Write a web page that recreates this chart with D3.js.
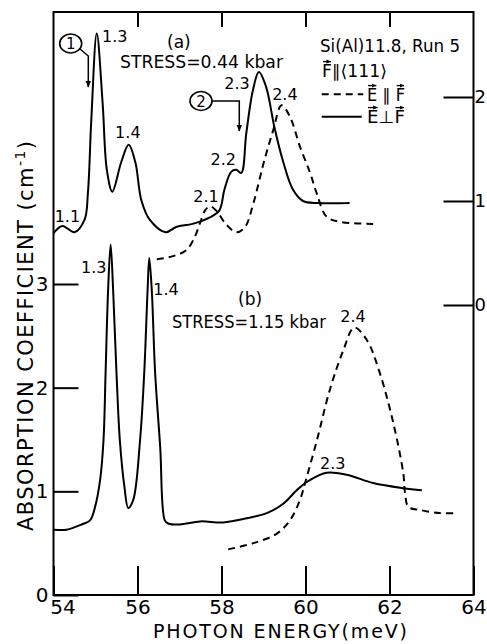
<!DOCTYPE html>
<html>
<head>
<meta charset="utf-8">
<script src="https://cdn.jsdelivr.net/npm/d3@7"></script>
<style>
  body { margin: 0; background: #fff; }
  svg { font-family: "DejaVu Sans", sans-serif; }
</style>
</head>
<body>
<svg id="chart" width="487" height="644"></svg>
<script>
// tick values
const xTicks = [54, 56, 58, 60, 62, 64];
const leftTicks = [0, 1, 2, 3];   // scale for (b)
const rightTicks = [0, 1, 2];     // scale for (a)

// (a) stress 0.44 kbar, read on the right-hand scale  [energy meV, coeff]
const aPerp = [
  [54.0, 0.69], [54.21, 0.76], [54.5, 0.70], [54.74, 0.82], [54.82, 1.08],
  [54.90, 1.78], [55.03, 2.61], [55.17, 1.94], [55.27, 1.30], [55.40, 1.09],
  [55.61, 1.37], [55.79, 1.54], [55.95, 1.37], [56.09, 1.01], [56.29, 0.82],
  [56.67, 0.70], [56.92, 0.75], [57.31, 0.78], [57.71, 0.84], [57.95, 0.91],
  [58.07, 1.11], [58.23, 1.28], [58.35, 1.30], [58.47, 1.27], [58.59, 1.65],
  [58.75, 2.07], [58.89, 2.24], [59.06, 2.10], [59.26, 1.71], [59.46, 1.39],
  [59.70, 1.11], [59.94, 1.00], [60.3, 0.98], [61.05, 0.98]
];
const aPar = [
  [56.46, 0.44], [56.85, 0.47], [57.17, 0.53], [57.37, 0.66], [57.49, 0.79],
  [57.61, 0.91], [57.73, 0.95], [57.89, 0.90], [58.12, 0.77], [58.36, 0.70],
  [58.56, 0.75], [58.76, 0.98], [59.00, 1.36], [59.23, 1.68], [59.43, 1.92],
  [59.63, 1.81], [59.87, 1.52], [60.11, 1.27], [60.27, 1.07], [60.50, 0.85],
  [60.82, 0.80], [61.61, 0.78]
];

// (b) stress 1.15 kbar, read on the left-hand scale
const bPerp = [
  [54.01, 0.63], [54.31, 0.63], [54.67, 0.68], [54.87, 0.72], [54.99, 0.85],
  [55.11, 1.11], [55.19, 1.49], [55.24, 2.14], [55.30, 2.94], [55.36, 3.38],
  [55.42, 2.94], [55.50, 2.14], [55.58, 1.49], [55.69, 1.04], [55.78, 0.84],
  [55.90, 0.92], [56.06, 1.49], [56.16, 2.14], [56.24, 2.94], [56.28, 3.25],
  [56.34, 2.94], [56.42, 2.14], [56.54, 1.43], [56.65, 0.72], [56.73, 0.69],
  [57.01, 0.68], [57.49, 0.71], [58.04, 0.70], [58.60, 0.74], [59.08, 0.79],
  [59.47, 0.88], [59.79, 1.01], [60.03, 1.09], [60.50, 1.18], [60.98, 1.16],
  [61.61, 1.08], [62.33, 1.03], [62.77, 1.01]
];
const bPar = [
  [58.16, 0.44], [58.76, 0.50], [59.31, 0.59], [59.63, 0.72], [59.87, 0.92],
  [60.01, 1.11], [60.27, 1.49], [60.58, 1.98], [60.90, 2.36], [61.16, 2.58],
  [61.46, 2.46], [61.77, 2.14], [62.09, 1.66], [62.33, 1.17], [62.37, 0.98],
  [62.45, 0.85], [62.73, 0.82], [63.20, 0.79], [63.60, 0.79]
];

// peak labels [text, energy, coeff]
const aLabels = [
  ["1.1", 54.33, 0.80], ["1.3", 55.46, 2.53], ["1.4", 55.77, 1.61],
  ["2.1", 57.63, 0.99], ["2.2", 58.04, 1.35], ["2.3", 58.37, 2.08], ["2.4", 59.51, 1.97]
];
const bLabels = [
  ["1.3", 54.96, 3.11], ["1.4", 56.68, 2.89], ["2.4", 61.13, 2.63], ["2.3", 60.65, 1.22]
];

const svg = d3.select("#chart");
const width = +svg.attr("width");
const height = +svg.attr("height");
const frame = { left: 53.5, right: 473.5, top: 12, bottom: 595 };

const x = d3.scaleLinear().domain([54, 64]).range([frame.left, frame.right]);
const yB = d3.scaleLinear().domain([0, 3]).range([frame.bottom, 284]);
const yA = d3.scaleLinear().domain([0, 2]).range([305, 97]);

const defs = svg.append("defs");
const addTip = (id, size) => {
  defs.append("marker")
    .attr("id", id)
    .attr("viewBox", "0 0 10 10")
    .attr("refX", 9).attr("refY", 5)
    .attr("markerWidth", size).attr("markerHeight", size)
    .attr("markerUnits", "userSpaceOnUse")
    .attr("orient", "auto")
    .append("path").attr("d", "M0,1 L10,5 L0,9 Z").attr("fill", "#000");
};
addTip("tip", 7);
addTip("tipS", 5);

// frame
svg.append("rect")
  .attr("x", frame.left).attr("y", frame.top)
  .attr("width", frame.right - frame.left)
  .attr("height", frame.bottom - frame.top)
  .attr("fill", "none").attr("stroke", "#000").attr("stroke-width", 2);

const styleAxis = (g) => {
  g.attr("font-family", null).attr("font-size", 20);
  g.select(".domain").remove();
  g.selectAll(".tick line").attr("stroke", "#000").attr("stroke-width", 2);
  g.selectAll(".tick text").attr("fill", "#000");
};

const xAxisG = svg.append("g")
  .attr("transform", `translate(0,${frame.bottom})`)
  .call(d3.axisBottom(x).tickValues(xTicks).tickSize(-29).tickPadding(5).tickFormat(d3.format("d")))
  .call(styleAxis);
xAxisG.selectAll(".tick text").filter((d) => d === 54).attr("dx", 9);

svg.append("g")
  .attr("transform", `translate(0,${frame.top})`)
  .call(d3.axisTop(x).tickValues([56, 58, 60, 62]).tickSize(-15).tickFormat(""))
  .call(styleAxis);

svg.append("g")
  .attr("transform", `translate(${frame.left},0)`)
  .call(d3.axisLeft(yB).tickValues(leftTicks).tickSize(-25).tickPadding(5).tickFormat(d3.format("d")))
  .call(styleAxis);

svg.append("g")
  .attr("transform", `translate(${frame.right},0)`)
  .call(d3.axisRight(yA).tickValues(rightTicks).tickSize(-30).tickPadding(1).tickFormat(d3.format("d")))
  .call(styleAxis)
  .attr("font-size", 18);

// axis titles
const yTitle = svg.append("text")
  .attr("transform", "translate(33,336) rotate(-90)")
  .attr("text-anchor", "middle")
  .attr("font-size", 21)
  .attr("textLength", 390).attr("lengthAdjust", "spacing");
yTitle.append("tspan").text("ABSORPTION  COEFFICIENT (cm");
yTitle.append("tspan").attr("dy", -8).attr("font-size", 14).text("-1");
yTitle.append("tspan").attr("dy", 8).text(")");

svg.append("text")
  .attr("x", 280).attr("y", 638)
  .attr("text-anchor", "middle")
  .attr("font-size", 19)
  .attr("textLength", 254).attr("lengthAdjust", "spacing")
  .text("PHOTON  ENERGY(meV)");

// curves
const curve = (data, yScale, dashed) => {
  const line = d3.line()
    .x((d) => x(d[0]))
    .y((d) => yScale(d[1]))
    .curve(d3.curveCatmullRom.alpha(0.5));
  svg.append("path")
    .datum(data)
    .attr("d", line)
    .attr("fill", "none")
    .attr("stroke", "#000")
    .attr("stroke-width", 2)
    .attr("stroke-linejoin", "round")
    .attr("stroke-dasharray", dashed ? "7,5" : null);
};
curve(aPerp, yA, false);
curve(aPar, yA, true);
curve(bPerp, yB, false);
curve(bPar, yB, true);

// peak labels
const peakLabels = (labels, yScale) => {
  svg.append("g").selectAll("text")
    .data(labels)
    .join("text")
    .attr("x", (d) => x(d[1]))
    .attr("y", (d) => yScale(d[2]))
    .attr("text-anchor", "middle")
    .attr("font-size", 16)
    .text((d) => d[0]);
};
peakLabels(aLabels, yA);
peakLabels(bLabels, yB);

// panel captions
const caption = (txt, px, py, size, len) => {
  const t = svg.append("text").attr("x", px).attr("y", py)
    .attr("font-size", size).text(txt);
  if (len) t.attr("textLength", len).attr("lengthAdjust", "spacingAndGlyphs");
  return t;
};
caption("(a)", 167, 48, 17);
caption("STRESS=0.44 kbar", 120, 68, 17, 163);
caption("(b)", 238, 305, 17);
caption("STRESS=1.15 kbar", 172, 328, 17, 154);

// circled markers with arrows
const marker = (label, cx, cy, pts) => {
  svg.append("ellipse").attr("cx", cx).attr("cy", cy)
    .attr("rx", 11).attr("ry", 9.5)
    .attr("fill", "none").attr("stroke", "#000").attr("stroke-width", 1.6);
  svg.append("text").attr("x", cx).attr("y", cy + 5.5)
    .attr("text-anchor", "middle").attr("font-size", 15).text(label);
  svg.append("path").attr("d", d3.line()(pts))
    .attr("fill", "none").attr("stroke", "#000").attr("stroke-width", 1.5)
    .attr("marker-end", "url(#tip)");
};
marker("1", 70.7, 43.5, [[80, 49], [88.3, 56], [88.3, 87]]);
marker("2", 201, 101, [[212, 101], [239.3, 101], [239.3, 131]]);

// legend block
const vecOver = (textSel, idx, size) => {
  const node = textSel.node();
  const s = node.getStartPositionOfChar(idx);
  const e = node.getEndPositionOfChar(idx);
  const yy = s.y - size * 0.73 - 3;
  svg.append("path")
    .attr("d", `M${s.x + 1},${yy}H${e.x - 1}`)
    .attr("stroke", "#000").attr("stroke-width", 1.3)
    .attr("marker-end", "url(#tipS)");
};

caption("Si(Al)11.8, Run 5", 320, 52, 17, 140);
const fLine = caption("F\u2225\u27e8111\u27e9", 322, 77, 17, 65);
vecOver(fLine, 0, 17);

svg.append("line").attr("x1", 321.7).attr("x2", 363.3)
  .attr("y1", 94.3).attr("y2", 94.3)
  .attr("stroke", "#000").attr("stroke-width", 2).attr("stroke-dasharray", "7,5");
const parT = caption("E \u2225 F", 367, 101, 17, 38);
vecOver(parT, 0, 17);
vecOver(parT, 4, 17);

svg.append("line").attr("x1", 321.7).attr("x2", 361.7)
  .attr("y1", 116.7).attr("y2", 116.7)
  .attr("stroke", "#000").attr("stroke-width", 2);
const perpT = caption("E\u22a5F", 367, 123, 17, 38);
vecOver(perpT, 0, 17);
vecOver(perpT, 2, 17);
</script>
</body>
</html>
